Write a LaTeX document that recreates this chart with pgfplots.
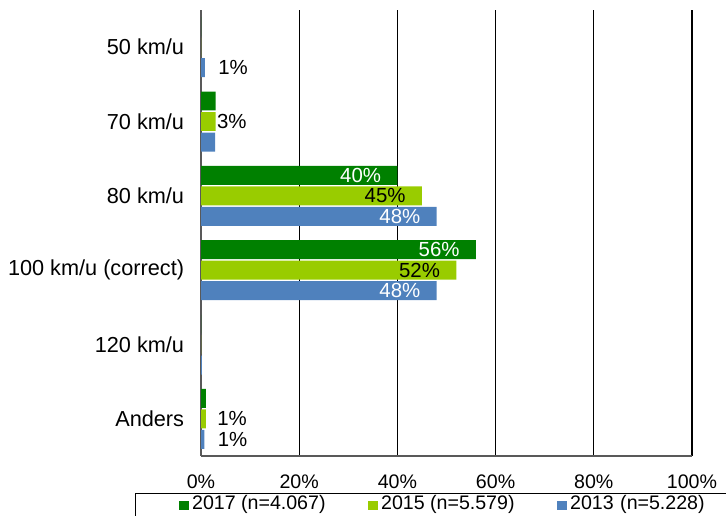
\documentclass[border=0pt]{standalone}
\usepackage{pgfplots}
\pgfplotsset{compat=1.18}
\usepackage{fontspec}
\setmainfont{Liberation Sans}
\definecolor{c2017}{HTML}{008000}
\definecolor{c2015}{HTML}{99CC00}
\definecolor{c2013}{HTML}{4F81BD}
\begin{document}
\begin{tikzpicture}
\begin{axis}[
  at={(100.5pt,-228pt)}, anchor=south west,
  scale only axis, width=245.5pt, height=223pt,
  xbar, bar width=0.255,
  xmin=0, xmax=100, ymin=-0.5, ymax=5.5, y dir=reverse,
  axis lines*=left,
  axis line style={draw=gray!70!black, line width=0.9pt},
  xmajorgrids, grid style={black, line width=0.6pt},
  xtick={0,20,...,100}, xticklabels={0\%,20\%,40\%,60\%,80\%,100\%},
  ytick={0,...,5}, yticklabels={50 km/u,70 km/u,80 km/u,100 km/u (correct),120 km/u,Anders},
  tick style={draw=none},
  xticklabel style={font=\fontsize{9.8}{11}\selectfont, inner sep=0pt, anchor=north, yshift=-9pt},
  yticklabel style={font=\fontsize{10.85}{12}\selectfont, inner sep=0pt, anchor=east, xshift=-4pt},
  nodes near coords,
  point meta=explicit symbolic,
  visualization depends on={value \thisrow{an}\as\an},
  visualization depends on={value \thisrow{dx}\as\dx},
  visualization depends on={value \thisrow{tc}\as\tc},
  every node near coord/.append style={font=\fontsize{10.2}{12}\selectfont, inner sep=0pt, anchor=\an, xshift=\dx, text=\tc},
  legend columns=3,
  legend image code/.code={\fill[#1, draw=none] (0pt,0pt) rectangle (5pt,4.7pt); \path (6.75pt,0pt);},
  legend style={at={(-0.1344,-0.0823)}, anchor=north west, draw=black, line width=0.6pt, fill=white,
    inner xsep=21.5pt, inner ysep=1pt, font=\fontsize{9.8}{11}\selectfont, nodes={inner sep=0pt, text depth=8pt},
    /tikz/every even column/.append style={column sep=21pt},
    /tikz/column 6/.append style={nodes={text width=82pt, align=left}}},
]
\addplot[fill=c2017, draw=none, bar shift=-0.276] table[x=x, y=y, meta=lab] {
y x lab an dx tc
0 0 {} west 0pt black
1 3 {} west 0pt black
2 40 40\% east -8pt white
3 56 56\% east -8pt white
4 0 {} west 0pt black
5 1 {} west 0pt black
};
\addlegendentry{2017 (n=4.067)}
\addplot[fill=c2015, draw=none, bar shift=0] table[x=x, y=y, meta=lab] {
y x lab an dx tc
0 0 {} west 0pt black
1 3 3\% west 0.5pt black
2 45 45\% east -8pt black
3 52 52\% east -8pt black
4 0 {} west 0pt black
5 1 1\% west 5.5pt black
};
\addlegendentry{2015 (n=5.579)}
\addplot[fill=c2013, draw=none, bar shift=0.276] table[x=x, y=y, meta=lab] {
y x lab an dx tc
0 0.8 1\% west 6.5pt black
1 2.9 {} west 0pt black
2 48 48\% east -8pt white
3 48 48\% east -8pt white
4 0.2 {} west 0pt black
5 0.7 1\% west 6.5pt black
};
\addlegendentry{2013 (n=5.228)}
\end{axis}
\pgfresetboundingbox
\useasboundingbox (0,0) rectangle (363pt,-257.5pt);
\end{tikzpicture}
\end{document}
